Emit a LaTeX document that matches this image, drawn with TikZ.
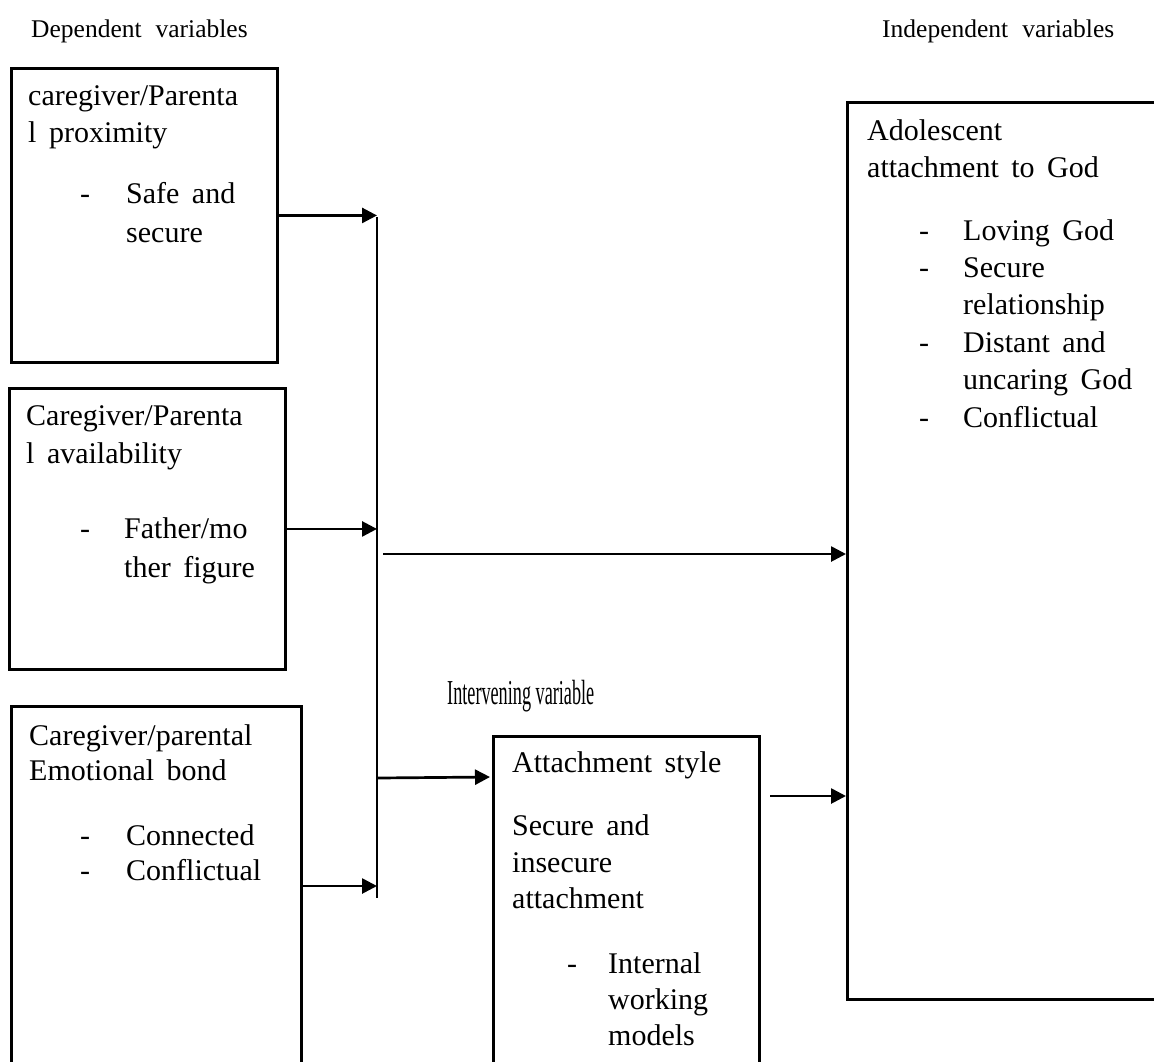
\documentclass[tikz,border=0pt]{standalone}
\usepackage{fontspec}
\setmainfont{Liberation Serif}
\usetikzlibrary{arrows.meta,calc}
\newcommand\boxtextfont{\fontsize{30}{36}\selectfont\spaceskip=12.5pt plus 3pt minus 1pt\relax}
\newcommand\headfont{\fontsize{25.5}{30}\selectfont\spaceskip=14pt plus 3pt minus 1pt\relax}
\begin{document}
\begin{tikzpicture}[x=1pt,y=-1pt,
  box/.style={draw,line width=2.9pt,rectangle,inner sep=0pt,anchor=north west},
  txt/.style={anchor=base west,inner sep=0pt,font=\boxtextfont},
  hdr/.style={anchor=base west,inner sep=0pt,font=\headfont},
  conn/.style={line width=2.7pt},
  arr/.style={line width=2.7pt,-{Triangle[length=15pt,width=15pt]}}]
\clip (0,0) rectangle (1154,1061);
\useasboundingbox (0,0) rectangle (1154,1061);
\fill[white] (0,0) rectangle (1154,1061);
% headers
\node[hdr] (hdep) at (31,37) {Dependent variables};
\node[hdr] (hind) at (882,37) {Independent variables};
\node[anchor=base west,inner sep=0pt] (hint) at (447,704) {\scalebox{0.52}[1]{\fontsize{35}{35}\selectfont Intervening variable}};
% boxes
\node[box,minimum width=266pt,minimum height=294pt] (A) at (10,67) {};
\node[box,minimum width=276pt,minimum height=281pt] (B) at (8,387) {};
\node[box,minimum width=290pt,minimum height=375pt] (C) at (10,705) {};
\node[box,minimum width=266pt,minimum height=345pt] (E) at (492,735) {};
\node[box,minimum width=329pt,minimum height=897pt] (D) at (846,101) {};
% box A text
\node[txt] (a1) at (28,105) {caregiver/Parenta};
\node[txt] (a2) at (28,142) {l proximity};
\node[txt] (a3) at (80,203) {-};
\node[txt] (a4) at (126,203) {Safe and};
\node[txt] (a5) at (126,242) {secure};
% box B text
\node[txt] (b1) at (26,425) {Caregiver/Parenta};
\node[txt] (b2) at (26,463) {l availability};
\node[txt] (b3) at (80,538) {-};
\node[txt] (b4) at (124,538) {Father/mo};
\node[txt] (b5) at (124,577) {ther figure};
% box C text
\node[txt] (c1) at (29,745) {Caregiver/parental};
\node[txt] (c2) at (29,780) {Emotional bond};
\node[txt] (c3) at (80,845) {-};
\node[txt] (c4) at (126,845) {Connected};
\node[txt] (c5) at (80,880) {-};
\node[txt] (c6) at (126,880) {Conflictual};
% box E text
\node[txt] (e1) at (512,772) {Attachment style};
\node[txt] (e2) at (512,835) {Secure and};
\node[txt] (e3) at (512,872) {insecure};
\node[txt] (e4) at (512,908) {attachment};
\node[txt] (e5) at (567,973) {-};
\node[txt] (e6) at (608,973) {Internal};
\node[txt] (e7) at (608,1009) {working};
\node[txt] (e8) at (608,1045) {models};
% box D text
\node[txt] (d1) at (867,140) {Adolescent};
\node[txt] (d2) at (867,177) {attachment to God};
\node[txt] (d3) at (919,240) {-};
\node[txt] (d4) at (963,240) {Loving God};
\node[txt] (d5) at (919,277) {-};
\node[txt] (d6) at (963,277) {Secure};
\node[txt] (d7) at (963,314) {relationship};
\node[txt] (d8) at (919,352) {-};
\node[txt] (d9) at (963,352) {Distant and};
\node[txt] (d10) at (963,389) {uncaring God};
\node[txt] (d11) at (919,427) {-};
\node[txt] (d12) at (963,427) {Conflictual};
% connectors
\coordinate (vtop) at (377,217);
\coordinate (vbot) at (377,898);
\draw[conn] (vtop) -- (vbot);
\draw[arr] (A.east) -- (A.east -| vtop);
\draw[arr] (B.east) -- (B.east -| vtop);
\coordinate (cout) at ($(C.north east)+(0,181)$);
\draw[arr] (cout) -- (cout -| vtop);
\coordinate (m1) at (383,554);
\draw[arr] (m1) -- (m1 -| D.west);
\coordinate (m2) at (378,778);
\draw[arr] (m2) -- ($(E.north west)+(-2,42)$);
\coordinate (m3) at (770,796);
\draw[arr] (m3) -- (m3 -| D.west);
\end{tikzpicture}
\end{document}
